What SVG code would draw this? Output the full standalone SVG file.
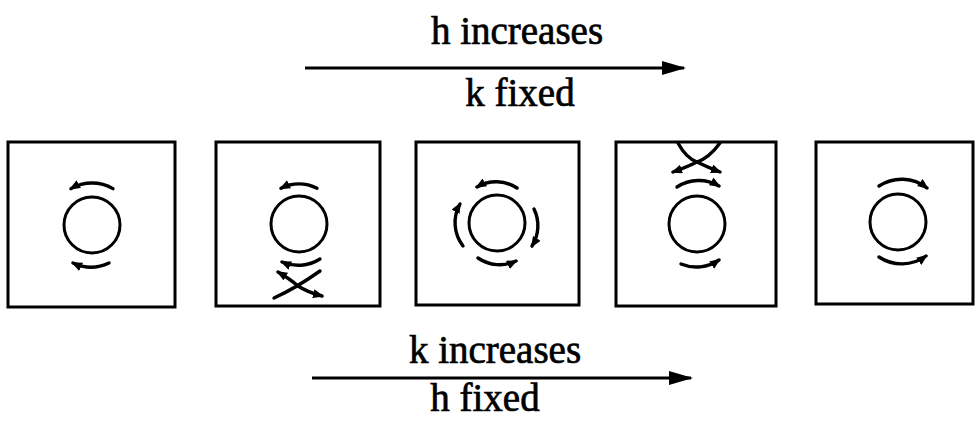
<svg xmlns="http://www.w3.org/2000/svg" width="976" height="426" viewBox="0 0 976 426">
  <style>
    .frame { fill: none; stroke: #000; stroke-width: 3; }
    .body { fill: none; stroke: #000; stroke-width: 3; }
    .flow { fill: none; stroke: #000; stroke-width: 3.4; stroke-linecap: round; marker-end: url(#tip); }
    .sep { fill: none; stroke: #000; stroke-width: 3.4; stroke-linecap: round; }
    .axis { fill: none; stroke: #000; stroke-width: 3; marker-end: url(#bigtip); }
    .lbl { font-family: "Liberation Serif", "Times New Roman", serif; font-size: 39px; fill: #000; stroke: #000; stroke-width: 0.7; text-anchor: middle; }
  </style>
  <defs>
    <marker id="tip" markerUnits="userSpaceOnUse" markerWidth="14" markerHeight="10" refX="9" refY="4.5" orient="auto">
      <path d="M0,0 L11,4.5 L0,9 Z" fill="#000"/>
    </marker>
    <marker id="bigtip" markerUnits="userSpaceOnUse" markerWidth="26" markerHeight="16" refX="22" refY="7" orient="auto">
      <path d="M0,0 L24,7 L0,14 Z" fill="#000"/>
    </marker>
  </defs>

  <!-- parameter sweep arrows -->
  <g id="connectors">
    <line class="axis" x1="305" y1="68" x2="684" y2="68"/>
    <line class="axis" x1="312" y1="378" x2="691" y2="378"/>
  </g>

  <g id="labels">
    <text class="lbl" x="517" y="44">h increases</text>
    <text class="lbl" x="520" y="106">k fixed</text>
    <text class="lbl" x="495" y="363">k increases</text>
    <text class="lbl" x="485" y="411">h fixed</text>
  </g>

  <!-- stage 1: flow passes the body leftwards on both sides -->
  <g id="stage1">
    <rect class="frame" x="8" y="142" width="167" height="165"/>
    <circle class="body" cx="92" cy="225" r="28"/>
    <path class="flow" d="M113,188.6 A42,42 0 0 0 71,188.6"/>
    <path class="flow" d="M109,263 A42,42 0 0 1 73,263"/>
  </g>

  <!-- stage 2: a saddle point appears below the body -->
  <g id="stage2">
    <rect class="frame" x="216" y="142" width="164" height="164"/>
    <circle class="body" cx="299" cy="224" r="28"/>
    <path class="flow" d="M317,188.3 A40,40 0 0 0 281,188.3"/>
    <path class="flow" d="M320,259 A41,41 0 0 1 282,262"/>
    <path class="sep" d="M274,298 Q296,288 320,271"/>
    <path class="flow" d="M298,286 Q290,279 278,272"/>
    <path class="flow" d="M298,286 Q307,292 322,296"/>
  </g>

  <!-- stage 3: four arcs around the body -->
  <g id="stage3">
    <rect class="frame" x="416" y="142" width="163" height="163"/>
    <circle class="body" cx="497" cy="223" r="28"/>
    <path class="flow" d="M517,188 A38,38 0 0 0 477,187"/>
    <path class="flow" d="M463,246 A38,38 0 0 1 460,204"/>
    <path class="flow" d="M534,209 A38,38 0 0 1 532,246"/>
    <path class="flow" d="M478,258 A38,38 0 0 0 516,261"/>
  </g>

  <!-- stage 4: saddle point moves above the body -->
  <g id="stage4">
    <rect class="frame" x="616" y="142" width="160" height="164"/>
    <circle class="body" cx="697" cy="224" r="28"/>
    <path class="flow" d="M677,187 A40,40 0 0 1 719,186"/>
    <path class="flow" d="M681,264 A40,40 0 0 0 719,260"/>
    <path class="flow" d="M678,143 Q686,158 697,162 Q707,167 720,172"/>
    <path class="flow" d="M720,143 Q709,158 697,162 Q687,167 673,172"/>
  </g>

  <!-- stage 5: flow passes the body rightwards on both sides -->
  <g id="stage5">
    <rect class="frame" x="816" y="142" width="157" height="162"/>
    <circle class="body" cx="898" cy="222" r="28"/>
    <path class="flow" d="M879,186 A41,41 0 0 1 927,188"/>
    <path class="flow" d="M879,257 A41,41 0 0 0 926,256"/>
  </g>
</svg>
